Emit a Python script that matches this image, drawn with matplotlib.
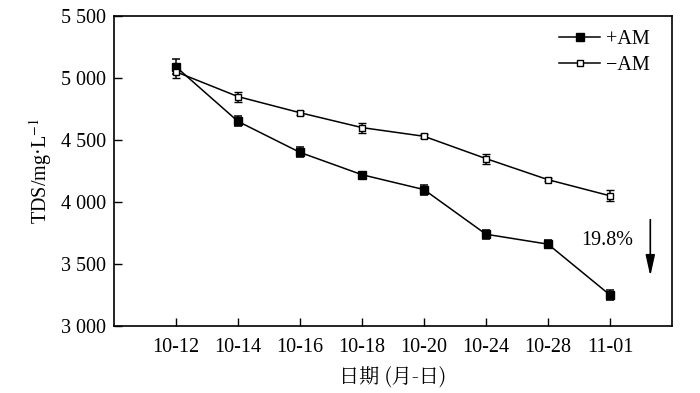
import numpy as np
import matplotlib
matplotlib.use("Agg")
import matplotlib.pyplot as plt
from matplotlib.ticker import FuncFormatter
from matplotlib.lines import Line2D

plt.rcParams['font.family'] = ['Liberation Serif', 'Noto Sans CJK SC']
plt.rcParams['mathtext.fontset'] = 'stix'

# Datos
fechas = ['10-12', '10-14', '10-16', '10-18', '10-20', '10-24', '10-28', '11-01']
am_pos = [5090, 4650, 4400, 4220, 4100, 3740, 3660, 3250]
am_pos_err = [60, 40, 40, 15, 40, 35, 35, 40]
am_neg = [5050, 4850, 4720, 4600, 4530, 4350, 4180, 4050]
am_neg_err = [50, 40, 15, 40, 15, 40, 12, 45]

x = np.arange(len(fechas))
fs = 14.5

fig = plt.figure(figsize=(7, 3.93), dpi=100)
ax = fig.add_axes([114/700, 1 - 326/393, (672-114)/700, (326-16)/393])

ax.errorbar(x, am_pos, yerr=am_pos_err, color='black', marker='s', ms=6,
            mfc='black', lw=1.1, capsize=3, elinewidth=1.1, capthick=1.1)
ax.errorbar(x, am_neg, yerr=am_neg_err, color='black', marker='s', ms=5,
            mfc='white', mew=1.0, lw=1.1, capsize=3, elinewidth=1.1,
            capthick=1.1)

ax.set_xlim(-1, 8)
ax.set_ylim(3000, 5500)
ax.set_xticks(x)
ax.set_xticklabels(fechas)
ax.set_yticks([3000, 3500, 4000, 4500, 5000, 5500])
ax.yaxis.set_major_formatter(FuncFormatter(lambda v, p: f'{int(v):,}'.replace(',', ' ')))
ax.tick_params(direction='in', length=6, width=1.0, labelsize=fs, pad=6)
ax.tick_params(axis='x', pad=9)
for s in ax.spines.values():
    s.set_linewidth(1.2)

ax.set_xlabel('日期 (月-日)', fontsize=fs, family=['Noto Serif CJK SC', 'Noto Sans CJK SC'], labelpad=7)
ax.set_ylabel('TDS/mg·L$^{-1}$', fontsize=fs, labelpad=5)

# Flecha de reducción
ax.annotate('', xy=(7.65, 3380), xytext=(7.65, 3880),
            arrowprops=dict(arrowstyle='-|>,head_length=0.9,head_width=0.2',
                            color='black', lw=1.2, mutation_scale=14))
ax.text(6.95, 3690, '19.8%', ha='center', va='center', fontsize=fs)

handles = [
    Line2D([], [], color='black', marker='s', ms=6, mfc='black', lw=1.1),
    Line2D([], [], color='black', marker='s', ms=5, mfc='white', mew=1.0, lw=1.1),
]
ax.legend(handles, ['+AM', '\u2212AM'], loc='upper right', frameon=False,
          fontsize=fs, handlelength=2.0, handletextpad=0.3, labelspacing=0.35,
          borderaxespad=0.3, bbox_to_anchor=(0.985, 1.0))

fig.savefig('out.png', dpi=100)
